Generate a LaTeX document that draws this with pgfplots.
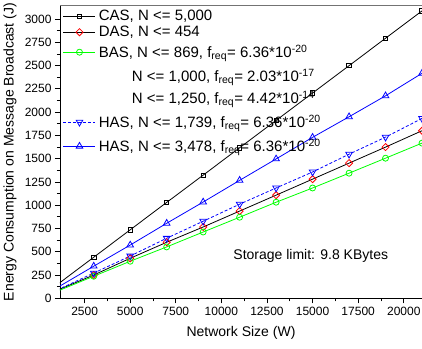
\documentclass[border=0pt]{standalone}
\usepackage{fontspec}
\setmainfont{Liberation Sans}
\usepackage{pgfplots}
\pgfplotsset{compat=1.18}
\pgfplotsset{
 limg/.style 2 args={legend image code/.code={\draw[mark repeat=2,mark phase=2] plot coordinates {(0pt,0pt) (16pt,0pt) (32pt,0pt)}; \path[draw=none] (0pt,-#1pt) rectangle (32pt,#2pt);}},
}
\begin{document}
\begin{tikzpicture}
\useasboundingbox (-60pt,-49.7pt) rectangle (362pt,298.3pt);
\begin{axis}[
 at={(0pt,0pt)}, anchor=south west,
 scale only axis, width=362pt, height=292.6pt,
 xmin=1150, xmax=21000, ymin=0, ymax=3143,
 axis lines=left, axis line style={-, line width=0.8pt},
 xtick={2500,5000,...,20000}, ytick={0,250,...,3000},
 minor x tick num=1, minor y tick num=1,
 tick align=outside,
 major tick length=5pt, minor tick length=3pt,
 tick style={black, line width=0.8pt},
 scaled ticks=false,
 /pgf/number format/assume math mode=true,
 /pgf/number format/set thousands separator={},
 tick label style={font=\fontsize{12}{14}\selectfont},
 xlabel={Network Size (W)}, ylabel={Energy Consumption on Message Broadcast (J)},
 label style={font=\fontsize{14}{16}\selectfont},
 xlabel style={at={(axis description cs:0.5,-0.119)}, anchor=center},
 ylabel style={at={(axis description cs:-0.138,0.5)}, anchor=center},
 legend style={at={(axis description cs:0.008,1)}, yshift=-2.3pt, anchor=north west, draw=none, fill=none, font=\fontsize{15}{17}\selectfont, row sep=0pt, inner sep=0pt, nodes={inner sep=0pt}, /tikz/every odd column/.append style={column sep=3pt}},
 legend cell align=left,
]
\addplot[black, line width=0.8pt, mark=square, mark size=2.2pt, mark options={solid}, limg={8}{8}] coordinates {
(1000,147) (3000,441) (5000,736) (7000,1030) (9000,1323) (11000,1617) (13000,1911) (15000,2205) (17000,2499) (19000,2793) (21000,3087)};
\addlegendentry{CAS, N <= 5,000}
\addplot[black, line width=0.8pt, mark=square, mark size=2.5pt, mark options={red, solid, rotate=45}, limg={8}{8}] coordinates {
(1000,86) (3000,250) (5000,430) (7000,602) (9000,766) (11000,937) (13000,1108) (15000,1280) (17000,1452) (19000,1624) (21000,1800)};
\addlegendentry{DAS, N <= 454}
\addplot[green, line width=0.8pt, mark=o, mark size=3pt, mark options={solid}, limg={12}{12}] coordinates {
(1000,76) (3000,237) (5000,398) (7000,552) (9000,712) (11000,871) (13000,1032) (15000,1185) (17000,1344) (19000,1505) (21000,1667)};
\addlegendentry{BAS, N <= 869, f\textsubscript{req}= 6.36*10\textsuperscript{-20}}
\addlegendimage{legend image code/.code={\path[draw=none] (0pt,-12pt) rectangle (32pt,12pt);}}
\addlegendentry{\hspace*{33pt}N <= 1,000, f\textsubscript{req}= 2.03*10\textsuperscript{-17}}
\addlegendimage{legend image code/.code={\path[draw=none] (0pt,-12pt) rectangle (32pt,10pt);}}
\addlegendentry{\hspace*{33pt}N <= 1,250, f\textsubscript{req}= 4.42*10\textsuperscript{-14}}
\addplot[blue, line width=0.8pt, dash pattern=on 3pt off 2pt, mark=triangle, mark size=3.8pt, mark options={solid, rotate=180}, limg={12}{12}] coordinates {
(1000,90) (3000,271) (5000,454) (7000,645) (9000,828) (11000,1011) (13000,1185) (15000,1357) (17000,1548) (19000,1731) (21000,1932)};
\addlegendentry{HAS, N <= 1,739, f\textsubscript{req}= 6.36*10\textsuperscript{-20}}
\addplot[blue, line width=0.8pt, mark=triangle, mark size=3.8pt, mark options={solid}, limg={12}{12}] coordinates {
(1000,115) (3000,345) (5000,572) (7000,806) (9000,1034) (11000,1267) (13000,1497) (15000,1729) (17000,1950) (19000,2175) (21000,2417)};
\addlegendentry{HAS, N <= 3,478, f\textsubscript{req}= 6.36*10\textsuperscript{-20}}
\node[font=\fontsize{14}{16}\selectfont] at (axis cs:14900,455) {Storage limit: 9.8 KBytes};
\end{axis}
\draw[black!55, line width=1.2pt] (0pt,292.6pt) -- (362pt,292.6pt);
\end{tikzpicture}
\end{document}
